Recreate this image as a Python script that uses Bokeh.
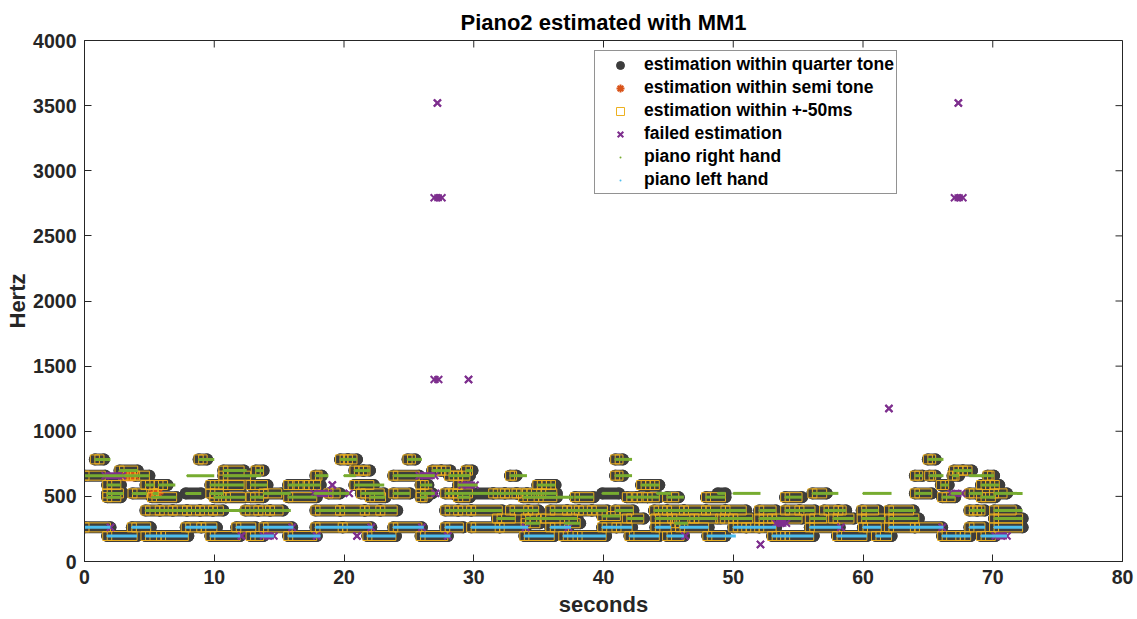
import math
from bokeh.plotting import figure
from bokeh.models import Range1d, Legend, LegendItem, FixedTicker
from bokeh.embed import file_html
from bokeh.resources import INLINE

# note frequencies (Hz)
G3, C4, D4, E4, F4, G4, B4, C5, D5, E5, F5, G5 = 196, 262, 294, 330, 349, 392, 494, 523, 587, 659, 698, 784

# (start s, end s, frequency Hz, estimate end s, estimate kind)
# kind: q = within quarter tone and +-50ms, d = within quarter tone only,
#       s = within semi tone, f = failed, n = not estimated
right_hand = [
    (0.0, 1.6, E5, 1.6, 'q'), (0.8, 2.0, G5, 1.5, 'q'), (1.6, 3.0, E5, 2.9, 'f'),
    (1.75, 2.8, D5, 2.8, 'q'), (1.75, 3.0, C5, 3.0, 'q'), (1.75, 2.8, B4, 2.8, 'q'),
    (2.7, 4.1, F5, 4.1, 'q'), (3.0, 3.9, E5, 3.9, 's'), (3.9, 5.0, E5, 5.0, 'q'),
    (3.7, 4.8, C5, 4.8, 'q'), (4.7, 5.4, D5, 5.4, 'q'), (5.3, 5.7, C5, 5.7, 's'),
    (5.7, 7.0, D5, 6.4, 'q'), (5.2, 7.1, B4, 7.1, 'q'), (4.7, 5.8, G4, 5.8, 'q'),
    (5.8, 6.8, G4, 6.8, 'q'), (6.8, 7.9, G4, 7.9, 'q'), (7.9, 8.9, G4, 8.9, 'q'),
    (8.9, 9.9, G4, 9.9, 'q'), (9.9, 12.4, G4, 10.7, 'q'), (7.9, 10.0, E5, 0, 'n'),
    (7.8, 9.0, C5, 9.0, 'd'), (8.8, 10.0, G5, 9.45, 'q'), (9.7, 10.7, D5, 10.7, 'q'),
    (10.7, 12.3, D5, 12.3, 'q'), (10.7, 12.5, F5, 12.3, 'q'), (10.7, 13.6, E5, 12.8, 'q'),
    (10.0, 10.9, B4, 10.9, 'q'), (10.9, 12.4, B4, 12.4, 'q'), (9.7, 10.7, C5, 10.7, 'q'),
    (12.8, 14.1, D5, 14.1, 'q'), (13.2, 13.8, F5, 13.8, 'q'), (12.8, 13.8, B4, 13.8, 'q'),
    (13.8, 15.9, C5, 15.2, 'q'), (12.4, 13.4, G4, 13.4, 'q'), (13.4, 14.3, G4, 14.3, 'q'),
    (14.3, 15.9, G4, 15.3, 'q'), (15.7, 16.5, D5, 16.5, 'q'), (16.5, 17.3, D5, 17.3, 'q'),
    (17.3, 18.2, D5, 18.2, 'q'), (15.7, 17.9, B4, 17.9, 'q'), (17.8, 18.8, E5, 18.3, 'q'),
    (17.7, 18.8, C5, 18.8, 'f'), (18.8, 20.4, C5, 19.7, 'q'), (19.7, 20.3, G5, 20.3, 'q'),
    (20.3, 21.0, G5, 21.0, 'q'), (20.0, 20.9, E5, 0, 'n'), (20.8, 21.5, F5, 21.5, 'q'),
    (21.5, 22.0, F5, 22.0, 'q'), (20.8, 23.1, D5, 22.3, 'q'), (21.3, 23.1, C5, 23.1, 'q'),
    (22.0, 23.2, B4, 23.2, 'q'), (17.8, 19.7, G4, 19.7, 'q'), (19.7, 21.6, G4, 21.6, 'q'),
    (21.6, 22.8, G4, 22.8, 'q'), (22.8, 24.1, G4, 24.1, 'q'), (23.8, 25.8, E5, 25.8, 'q'),
    (23.8, 25.1, C5, 25.1, 'q'), (24.9, 26.0, G5, 25.5, 'q'), (25.8, 27.0, E5, 27.0, 'f'),
    (25.9, 26.8, D5, 26.5, 'q'), (25.9, 27.0, C5, 26.8, 'q'), (25.9, 26.4, B4, 26.4, 'q'),
    (26.8, 27.5, F5, 27.5, 'q'), (27.5, 28.2, F5, 28.2, 'q'), (27.8, 28.4, C5, 28.4, 'q'),
    (28.4, 29.9, C5, 29.9, 'q'), (28.1, 28.8, E5, 28.8, 'q'), (28.8, 29.7, E5, 29.7, 'q'),
    (28.8, 29.1, D5, 29.1, 'q'), (29.1, 30.3, D5, 30.1, 'f'), (28.8, 29.7, B4, 29.7, 'q'),
    (29.4, 29.9, F5, 29.9, 'q'), (27.8, 28.8, G4, 28.8, 'q'), (28.8, 29.8, G4, 29.8, 'q'),
    (29.8, 32.2, G4, 32.2, 'q'), (29.9, 31.5, C5, 31.5, 'd'), (31.5, 32.4, C5, 32.4, 'q'),
    (32.4, 33.3, C5, 33.3, 'q'), (33.3, 34.1, C5, 34.1, 'q'), (34.1, 35.2, C5, 35.2, 'q'),
    (35.2, 36.4, C5, 36.4, 'q'), (32.8, 34.1, E5, 33.3, 'q'), (31.8, 33.2, E4, 33.2, 'q'),
    (32.8, 34.2, G4, 34.2, 'q'), (34.2, 35.0, G4, 35.0, 'q'), (33.8, 35.0, B4, 35.0, 'q'),
    (35.0, 37.7, B4, 36.4, 'q'), (34.9, 35.6, D5, 35.6, 'q'), (35.6, 36.3, D5, 36.3, 'q'),
    (34.0, 35.15, E4, 35.15, 'q'), (34.0, 35.1, D4, 35.1, 'q'), (35.2, 38.0, E4, 38.0, 'q'),
    (35.9, 37.2, G4, 37.2, 'q'), (37.2, 38.1, G4, 38.1, 'q'), (38.1, 39.1, G4, 39.1, 'q'),
    (39.1, 40.3, G4, 40.3, 'q'), (37.0, 38.2, D4, 38.2, 'q'), (37.8, 39.25, B4, 39.25, 'q'),
    (39.9, 41.2, C5, 41.2, 'd'), (39.9, 41.3, F4, 41.3, 'q'), (40.9, 42.2, G5, 41.5, 'q'),
    (40.9, 42.2, E5, 41.5, 'q'), (40.9, 42.3, G4, 42.3, 'q'), (41.8, 42.6, B4, 42.6, 'q'),
    (42.6, 43.4, B4, 43.4, 'q'), (43.4, 44.3, B4, 44.3, 'q'), (41.8, 43.1, E4, 43.1, 'q'),
    (42.9, 43.6, D5, 43.6, 'q'), (43.6, 44.3, D5, 44.3, 'q'), (43.9, 44.9, G4, 44.9, 'q'),
    (44.9, 46.2, G4, 46.2, 'q'), (46.2, 47.9, G4, 47.9, 'q'), (47.9, 49.4, G4, 49.4, 'q'),
    (44.1, 45.2, C5, 0, 'n'), (44.9, 46.2, B4, 45.8, 'q'), (47.9, 49.4, B4, 49.4, 'q'),
    (44.0, 45.3, E4, 45.3, 'q'), (45.3, 47.0, E4, 47.0, 'q'), (47.0, 48.8, E4, 48.8, 'q'),
    (45.5, 46.5, D4, 46.5, 'q'), (48.8, 49.4, C5, 49.4, 'd'), (49.0, 50.0, E4, 50.0, 'q'),
    (50.0, 51.5, E4, 51.5, 'q'), (49.4, 51.0, G4, 51.0, 'q'), (50.0, 52.1, C5, 0, 'n'),
    (52.0, 53.3, G4, 53.3, 'q'), (52.0, 53.0, E4, 53.0, 'q'), (53.0, 55.3, E4, 55.3, 'q'),
    (54.0, 55.3, B4, 55.3, 'q'), (54.0, 55.1, G4, 55.1, 'q'), (55.1, 56.3, G4, 56.3, 'q'),
    (55.9, 57.2, E4, 57.2, 'q'), (56.1, 58.1, C5, 57.2, 'q'), (57.0, 58.1, G4, 58.1, 'q'),
    (58.1, 58.7, G4, 58.7, 'q'), (57.7, 59.3, E4, 59.3, 'q'), (59.9, 61.2, G4, 61.2, 'q'),
    (59.9, 61.7, E4, 61.7, 'q'), (60.0, 62.2, C5, 0, 'n'), (62.0, 64.05, G4, 63.9, 'q'),
    (62.0, 64.3, E4, 64.3, 'q'), (64.0, 64.6, E5, 64.6, 'q'), (64.0, 65.3, C5, 65.3, 'q'),
    (65.0, 66.2, G5, 65.6, 'q'), (65.1, 66.2, E5, 65.6, 'q'), (66.0, 66.6, D5, 66.6, 'q'),
    (66.1, 67.1, B4, 67.1, 'q'), (66.9, 67.4, E5, 67.4, 'q'), (66.8, 67.6, C5, 67.6, 'f'),
    (67.0, 67.7, F5, 67.7, 'q'), (67.7, 68.4, F5, 68.4, 'q'), (68.2, 69.6, E5, 0, 'n'),
    (68.2, 69.2, C5, 69.2, 'q'), (68.2, 68.8, G4, 68.8, 'q'), (68.8, 69.4, G4, 69.4, 'q'),
    (69.1, 69.8, D5, 69.8, 'q'), (69.8, 70.5, D5, 70.5, 'q'), (69.1, 70.2, B4, 70.2, 'q'),
    (69.6, 70.1, E5, 70.1, 'q'), (70.1, 72.3, C5, 71.1, 'q'), (70.1, 72.3, G4, 71.8, 'q'),
    (70.1, 72.3, E4, 72.3, 'q'),
]

left_hand = [
    (0.0, 2.0, C4, 2.0, 'q'), (1.75, 4.05, G3, 4.05, 'q'), (3.65, 5.1, C4, 5.1, 'q'),
    (4.7, 5.9, G3, 5.9, 'q'), (5.9, 8.0, G3, 8.0, 'q'), (7.8, 9.0, C4, 9.0, 'q'),
    (9.0, 10.2, C4, 10.2, 'q'), (9.7, 12.0, G3, 12.0, 'q'), (11.7, 13.2, C4, 13.2, 'q'),
    (12.8, 13.8, G3, 13.8, 'q'), (13.8, 14.6, G3, 14.6, 'f'), (13.8, 16.1, C4, 16.0, 'q'),
    (15.7, 18.2, G3, 17.9, 'q'), (17.8, 19.9, C4, 19.9, 'q'), (19.9, 22.2, C4, 22.1, 'q'),
    (21.8, 24.0, G3, 24.0, 'q'), (23.8, 26.15, C4, 26.0, 'q'), (25.9, 28.2, G3, 28.0, 'q'),
    (27.8, 29.2, C4, 29.2, 'q'), (29.8, 32.0, C4, 32.0, 'q'), (32.0, 34.2, C4, 34.0, 'q'),
    (33.9, 36.2, G3, 36.2, 'q'), (35.9, 37.5, C4, 37.3, 'q'), (36.9, 38.0, G3, 38.0, 'q'),
    (38.0, 40.2, G3, 40.2, 'q'), (39.9, 41.0, C4, 41.0, 'q'), (41.0, 42.2, C4, 42.2, 'q'),
    (42.0, 44.3, G3, 44.3, 'q'), (44.0, 45.2, C4, 45.2, 'q'), (44.9, 46.2, G3, 46.2, 'q'),
    (45.9, 48.1, C4, 48.1, 'q'), (48.0, 50.2, G3, 49.4, 'q'), (50.0, 51.0, C4, 51.0, 'q'),
    (51.0, 52.0, C4, 52.0, 'q'), (52.0, 53.3, C4, 53.3, 'q'), (53.0, 54.0, G3, 54.0, 'q'),
    (54.0, 56.2, G3, 56.2, 'q'), (55.9, 58.3, C4, 58.2, 'q'), (58.0, 60.3, G3, 60.3, 'q'),
    (60.0, 61.4, C4, 61.4, 'q'), (61.0, 62.2, G3, 62.2, 'q'), (62.0, 64.0, C4, 64.0, 'q'),
    (64.0, 66.2, C4, 66.1, 'q'), (66.1, 67.5, G3, 67.5, 'q'), (67.5, 68.3, G3, 68.3, 'q'),
    (68.2, 69.4, C4, 69.4, 'q'), (69.1, 70.2, G3, 70.2, 'q'), (70.2, 71.1, G3, 71.1, 'f'),
    (70.1, 72.3, C4, 72.3, 'q'),
]

# failed estimations not tied to a played note: (start s, end s, Hz)
extra_failed = [
    (2.0, 2.0, C4), (12.1, 12.1, G3), (16.0, 16.0, C4), (17.9, 17.9, G3), (19.1, 19.1, D5),
    (20.4, 20.4, C5), (21.0, 21.0, G3), (22.1, 22.1, C4), (26.0, 26.0, C4), (27.05, 27.05, C5),
    (28.0, 28.0, G3), (34.0, 34.0, C4), (37.3, 37.3, C4), (46.3, 46.3, G3), (52.1, 52.1, 131),
    (53.3, 54.1, D4), (58.3, 58.3, C4), (66.1, 66.1, C4), (26.95, 27.55, 2793), (27.2, 27.2, 3520),
    (26.95, 27.3, 1397), (29.6, 29.6, 1397), (62.0, 62.0, 1175), (67.05, 67.7, 2793),
    (67.35, 67.35, 3520),
]

x_ticks = [0, 10, 20, 30, 40, 50, 60, 70, 80]
y_ticks = [0, 500, 1000, 1500, 2000, 2500, 3000, 3500, 4000]
X_MAX = 80
Y_MAX = 4000

FONT = "Liberation Sans"
AX = "#262626"
DARK = "#3d3d3d"
ORANGE = "#D95319"
YELLOW = "#EDB120"
PURPLE = "#7E2F8E"
GREEN = "#77AC30"
BLUE = "#4DBEEE"

notes = right_hand + left_hand
quarter = [n for n in notes if n[4] in ('q', 'd')]
boxed = [n for n in notes if n[4] in ('q', 's')]
semi = [n for n in notes if n[4] == 's']
failed = [(n[0], n[3], n[2]) for n in notes if n[4] == 'f'] + extra_failed

p = figure(width=1137, height=619, x_range=Range1d(0, X_MAX), y_range=Range1d(0, Y_MAX),
           output_backend="svg", toolbar_location=None,
           min_border_left=84, min_border_right=15, min_border_top=40, min_border_bottom=58)
p.background_fill_color = "white"
p.border_fill_color = "white"
p.grid.visible = False
p.outline_line_color = AX

p.title.text = "Piano2 estimated with MM1"
p.title.align = "center"
p.title.text_font = FONT
p.title.text_font_style = "bold"
p.title.text_font_size = "22px"
p.title.text_color = "black"
p.title.standoff = 12

for ax, ticks in ((p.xaxis[0], x_ticks), (p.yaxis[0], y_ticks)):
    ax.ticker = FixedTicker(ticks=ticks)
    ax.major_tick_in = 7
    ax.major_tick_out = 0
    ax.minor_tick_line_color = None
    ax.axis_line_color = AX
    ax.major_tick_line_color = AX
    ax.major_label_text_font = FONT
    ax.major_label_text_font_style = "bold"
    ax.major_label_text_font_size = "19.5px"
    ax.major_label_text_color = AX
    ax.axis_label_text_font = FONT
    ax.axis_label_text_font_style = "bold"
    ax.axis_label_text_font_size = "22px"
    ax.axis_label_text_color = AX
p.xaxis[0].axis_label = "seconds"
p.yaxis[0].axis_label = "Hertz"
p.xaxis[0].major_label_standoff = 8
p.xaxis[0].axis_label_standoff = 5
p.yaxis[0].major_label_standoff = 8
p.yaxis[0].axis_label_standoff = 0

# inward ticks on the top and right edges of the box
p.ray(x=x_ticks, y=[Y_MAX] * len(x_ticks), length=7, length_units="screen",
      angle=-math.pi / 2, line_color=AX, line_width=1)
p.ray(x=[X_MAX] * len(y_ticks), y=y_ticks, length=7, length_units="screen",
      angle=math.pi, line_color=AX, line_width=1)

# estimation within quarter tone: dense dark circles -> capsule
p.segment(x0=[n[0] for n in quarter], y0=[n[2] for n in quarter],
          x1=[n[3] for n in quarter], y1=[n[2] for n in quarter],
          line_width=12, line_cap="round", line_color=DARK)
r_quarter = p.scatter(x=[n[0] for n in quarter] + [n[3] for n in quarter],
                      y=[n[2] for n in quarter] * 2, marker="circle", size=11,
                      fill_color=DARK, line_color=DARK)

# estimation within semi tone
p.segment(x0=[n[0] for n in semi], y0=[n[2] for n in semi],
          x1=[n[3] for n in semi], y1=[n[2] for n in semi],
          line_width=11, line_color=ORANGE)
r_semi = p.scatter(x=[n[0] for n in semi] + [n[3] for n in semi],
                   y=[n[2] for n in semi] * 2, marker="asterisk", size=10,
                   line_color=ORANGE, line_width=2)

# estimation within +-50 ms: square outlines
p.rect(x=[(n[0] + n[3]) / 2 for n in boxed], y=[n[2] for n in boxed],
       width=[n[3] - n[0] for n in boxed], height=9, height_units="screen",
       fill_color=None, line_color=YELLOW, line_width=1)
r_box = p.scatter(x=[n[0] for n in boxed], y=[n[2] for n in boxed],
                  marker="square", size=9, fill_color=None, line_color=YELLOW, line_width=1)

# failed estimation
p.segment(x0=[f[0] for f in failed], y0=[f[2] for f in failed],
          x1=[f[1] for f in failed], y1=[f[2] for f in failed],
          line_width=7, line_color=PURPLE)
r_fail = p.scatter(x=[f[0] for f in failed] + [f[1] for f in failed],
                   y=[f[2] for f in failed] * 2, marker="x", size=10,
                   line_color=PURPLE, line_width=2)

# ground truth
p.segment(x0=[n[0] for n in right_hand], y0=[n[2] for n in right_hand],
          x1=[n[1] for n in right_hand], y1=[n[2] for n in right_hand],
          line_width=3, line_color=GREEN)
r_rh = p.scatter(x=[n[0] for n in right_hand], y=[n[2] for n in right_hand],
                 marker="dot", size=7, line_color=GREEN, fill_color=GREEN)
p.segment(x0=[n[0] for n in left_hand], y0=[n[2] for n in left_hand],
          x1=[n[1] for n in left_hand], y1=[n[2] for n in left_hand],
          line_width=3, line_color=BLUE)
r_lh = p.scatter(x=[n[0] for n in left_hand], y=[n[2] for n in left_hand],
                 marker="dot", size=7, line_color=BLUE, fill_color=BLUE)

legend = Legend(items=[
    LegendItem(label="estimation within quarter tone", renderers=[r_quarter]),
    LegendItem(label="estimation within semi tone", renderers=[r_semi]),
    LegendItem(label="estimation within +-50ms", renderers=[r_box]),
    LegendItem(label="failed estimation", renderers=[r_fail]),
    LegendItem(label="piano right hand", renderers=[r_rh]),
    LegendItem(label="piano left hand", renderers=[r_lh]),
], location=(510, 367), orientation="vertical")
legend.label_text_font = FONT
legend.label_text_font_style = "bold"
legend.label_text_font_size = "17.5px"
legend.label_text_color = "black"
legend.label_height = 23
legend.glyph_height = 20
legend.glyph_width = 46
legend.label_standoff = 1
legend.padding = 2
legend.spacing = 0
legend.margin = 0
legend.border_line_color = AX
legend.border_line_width = 1
legend.background_fill_color = "white"
legend.background_fill_alpha = 1
p.add_layout(legend, "center")

open("out.html", "w").write(file_html(p, INLINE))
